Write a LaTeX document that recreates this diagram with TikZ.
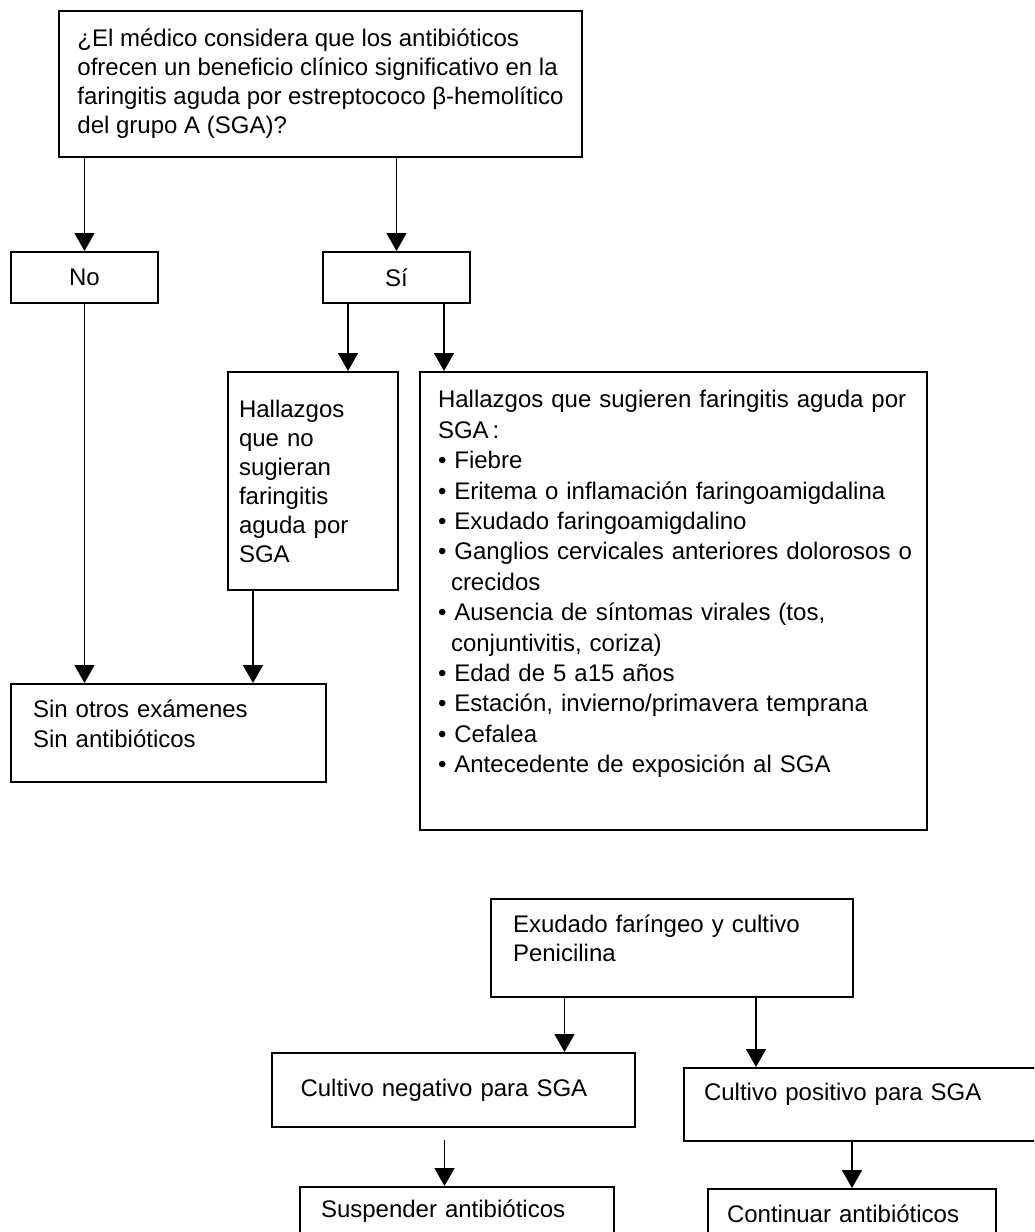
\documentclass[tikz,border=0pt]{standalone}
\usepackage{fontspec}
\setmainfont{Liberation Sans}
\usetikzlibrary{arrows.meta, positioning}
% invisible strut that deepens the last line, so the text sits higher in its box
\newcommand{\deepline}[1]{\rule[-#1]{0pt}{#1}}

\begin{document}
\begin{tikzpicture}[x=0.5pt, y=-0.5pt,
        box/.style={draw, line width=1pt, rectangle, anchor=north west, inner xsep=0pt, inner ysep=0pt,
            align=left, font=\fontsize{12}{14.5}\selectfont},
        arr/.style={line width=0.9pt, -{Triangle[width=10pt,length=9pt]}}]
        \clip (0,0) rectangle (1034,1232);
        % question and answers
        \node[box, minimum width=261.5pt, minimum height=73pt] (q) at (58,10)
            {¿El médico considera que los antibióticos\\ofrecen un beneficio clínico significativo en la\\faringitis aguda por estreptococo β-hemolítico\\del grupo A (SGA)?};
        \node[box, align=center, minimum width=73.5pt, minimum height=25.5pt] (no) at (10,251) {No};
        \node[box, align=center, minimum width=73.5pt, minimum height=25.5pt] (si) at (322,251) {Sí};
        \node[box, text width=74pt, minimum width=85pt, minimum height=109pt] (hno) at (227,371)
            {Hallazgos\\que no\\sugieran\\faringitis\\aguda por\\SGA};
        \node[box, text width=235.5pt, minimum width=253.5pt, minimum height=229pt,
            font=\fontsize{12}{15.2}\selectfont] (hsi) at (419,371)
            {\mbox{Hallazgos que sugieren faringitis aguda por}\\
             SGA\,:\\
             \textbullet\ Fiebre\\
             \textbullet\ Eritema o inflamación faringoamigdalina\\
             \textbullet\ Exudado faringoamigdalino\\
             \mbox{\textbullet\ Ganglios cervicales anteriores dolorosos o}\\
             \hspace*{6.5pt}crecidos\\
             \textbullet\ Ausencia de síntomas virales (tos,\\
             \hspace*{6.5pt}conjuntivitis, coriza)\\
             \textbullet\ Edad de 5 a15 años\\
             \textbullet\ Estación, invierno/primavera temprana\\
             \textbullet\ Cefalea\\
             \textbullet\ Antecedente de exposición al SGA\deepline{19.5pt}};
        \node[box, text width=135.5pt, minimum width=157.5pt, minimum height=49pt,
            font=\fontsize{12}{15}\selectfont] (sin) at (10,683)
            {Sin otros exámenes\\Sin antibióticos\deepline{9.5pt}};
        % culture part
        \node[box, text width=159pt, minimum width=181pt, minimum height=49pt] (exu) at (490,898)
            {Exudado faríngeo y cultivo\\Penicilina\deepline{9.5pt}};
        \node[box, text width=153pt, minimum width=181.5pt, minimum height=37pt] (neg) at (271,1052)
            {Cultivo negativo para SGA};
        \node[box, text width=180pt, minimum width=200pt, minimum height=36.5pt] (pos) at (683,1067)
            {Cultivo positivo para SGA\deepline{13pt}};
        \node[box, text width=135.75pt, minimum width=157.25pt, minimum height=40pt] (susp) at (298.5,1186)
            {Suspender antibióticos\deepline{18.5pt}};
        \node[box, text width=125pt, minimum width=144pt, minimum height=40pt] (cont) at (707,1188)
            {Continuar antibióticos\deepline{15pt}};

        \draw[arr] (q.south -| no.north) -- (no.north);
        \draw[arr] (q.south -| si.north) -- (si.north);
        \draw[arr] ([xshift=-24.25pt]si.south) -- ([xshift=-24.25pt]si.south |- hno.north);
        \draw[arr] ([xshift=23.75pt]si.south) -- ([xshift=23.75pt]si.south |- hsi.north);
        \draw[arr] (no.south) -- (no.south |- sin.north);
        \draw[arr] ([xshift=-30pt]hno.south) -- ([xshift=-30pt]hno.south |- sin.north);
        \draw[arr] ([xshift=-53.75pt]exu.south) -- ([xshift=-53.75pt]exu.south |- neg.north);
        \draw[arr] ([xshift=42pt]exu.south) -- ([xshift=42pt]exu.south |- pos.north);
        \draw[arr] ([xshift=-4.5pt,yshift=-6pt]neg.south) -- ([xshift=-4.5pt]neg.south |- susp.north);
        \draw[arr] (cont.north |- pos.south) -- (cont.north);
    \end{tikzpicture}
\end{document}
